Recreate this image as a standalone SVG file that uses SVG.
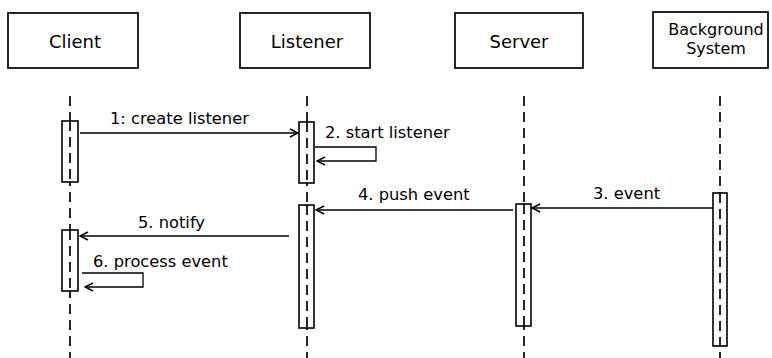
<svg xmlns="http://www.w3.org/2000/svg" width="772" height="358" viewBox="0 0 772 358">
  <style>
    .box { fill: #fff; stroke: #000; stroke-width: 1.7; }
    .life { stroke: #000; stroke-width: 1.7; stroke-dasharray: 10 6; fill: none; }
    .act { fill: #fff; stroke: #000; stroke-width: 1.6; }
    .msg { stroke: #000; stroke-width: 1.3; fill: none; }
    .lbl { font-family: "DejaVu Sans", Verdana, sans-serif; font-size: 18px; fill: #000; text-anchor: middle; }
    .lbl2 { font-family: "DejaVu Sans", Verdana, sans-serif; font-size: 16px; fill: #000; text-anchor: middle; }
    .mtxt { font-family: "DejaVu Sans", Verdana, sans-serif; font-size: 16.3px; fill: #000; }
  </style>
  <defs>
    <marker id="open" viewBox="0 0 10 10" refX="9" refY="5" markerWidth="10" markerHeight="10" markerUnits="userSpaceOnUse" orient="auto">
      <path d="M1,1 L9,5 L1,9" fill="none" stroke="#000" stroke-width="1.4"/>
    </marker>
  </defs>
  <rect width="772" height="358" fill="#fff"/>

  <!-- participant heads -->
  <g id="client">
    <rect class="box" x="8" y="13" width="130" height="55"/>
    <text class="lbl" x="75" y="48">Client</text>
  </g>
  <g id="listener">
    <rect class="box" x="240" y="13" width="130" height="55"/>
    <text class="lbl" x="307" y="48">Listener</text>
  </g>
  <g id="server">
    <rect class="box" x="455" y="13" width="128" height="55"/>
    <text class="lbl" x="519" y="48">Server</text>
  </g>
  <g id="background">
    <rect class="box" x="653" y="12" width="115" height="56"/>
    <text class="lbl2" x="716" y="35">Background</text>
    <text class="lbl2" x="716" y="54">System</text>
  </g>

  <!-- lifelines -->
  <g id="lifelines">
    <line class="life" x1="70" y1="96" x2="70" y2="358"/>
    <line class="life" x1="307" y1="96" x2="307" y2="358"/>
    <line class="life" x1="524" y1="96" x2="524" y2="358"/>
    <line class="life" x1="720" y1="96" x2="720" y2="358"/>
  </g>

  <!-- activation bars -->
  <g id="activations">
    <rect class="act" x="62" y="121" width="16" height="61"/>
    <rect class="act" x="62" y="230" width="16" height="61"/>
    <rect class="act" x="299" y="122" width="15" height="61"/>
    <rect class="act" x="299" y="205" width="15" height="123"/>
    <rect class="act" x="516" y="204" width="15" height="122"/>
    <rect class="act" x="713" y="193" width="14" height="153"/>
    <line class="life" x1="70" y1="121" x2="70" y2="182"/>
    <line class="life" x1="70" y1="230" x2="70" y2="291"/>
    <line class="life" x1="307" y1="122" x2="307" y2="183"/>
    <line class="life" x1="307" y1="205" x2="307" y2="328"/>
    <line class="life" x1="524" y1="204" x2="524" y2="326"/>
    <line class="life" x1="720" y1="193" x2="720" y2="346"/>
  </g>

  <!-- messages -->
  <g id="connectors">
    <line class="msg" x1="80" y1="133" x2="298" y2="133" marker-end="url(#open)"/>
    <polyline class="msg" points="315,147 376,147 376,161 317,161" marker-end="url(#open)"/>
    <line class="msg" x1="713" y1="208" x2="532" y2="208" marker-end="url(#open)"/>
    <line class="msg" x1="513" y1="210" x2="316" y2="210" marker-end="url(#open)"/>
    <line class="msg" x1="289" y1="236" x2="80" y2="236" marker-end="url(#open)"/>
    <polyline class="msg" points="82,273 143,273 143,287 85,287" marker-end="url(#open)"/>
  </g>

  <!-- message labels -->
  <g id="labels">
    <text class="mtxt" x="110" y="124">1: create listener</text>
    <text class="mtxt" x="325" y="138">2. start listener</text>
    <text class="mtxt" x="593" y="199">3. event</text>
    <text class="mtxt" x="358" y="200">4. push event</text>
    <text class="mtxt" x="138" y="228">5. notify</text>
    <text class="mtxt" x="93" y="267">6. process event</text>
  </g>
</svg>
